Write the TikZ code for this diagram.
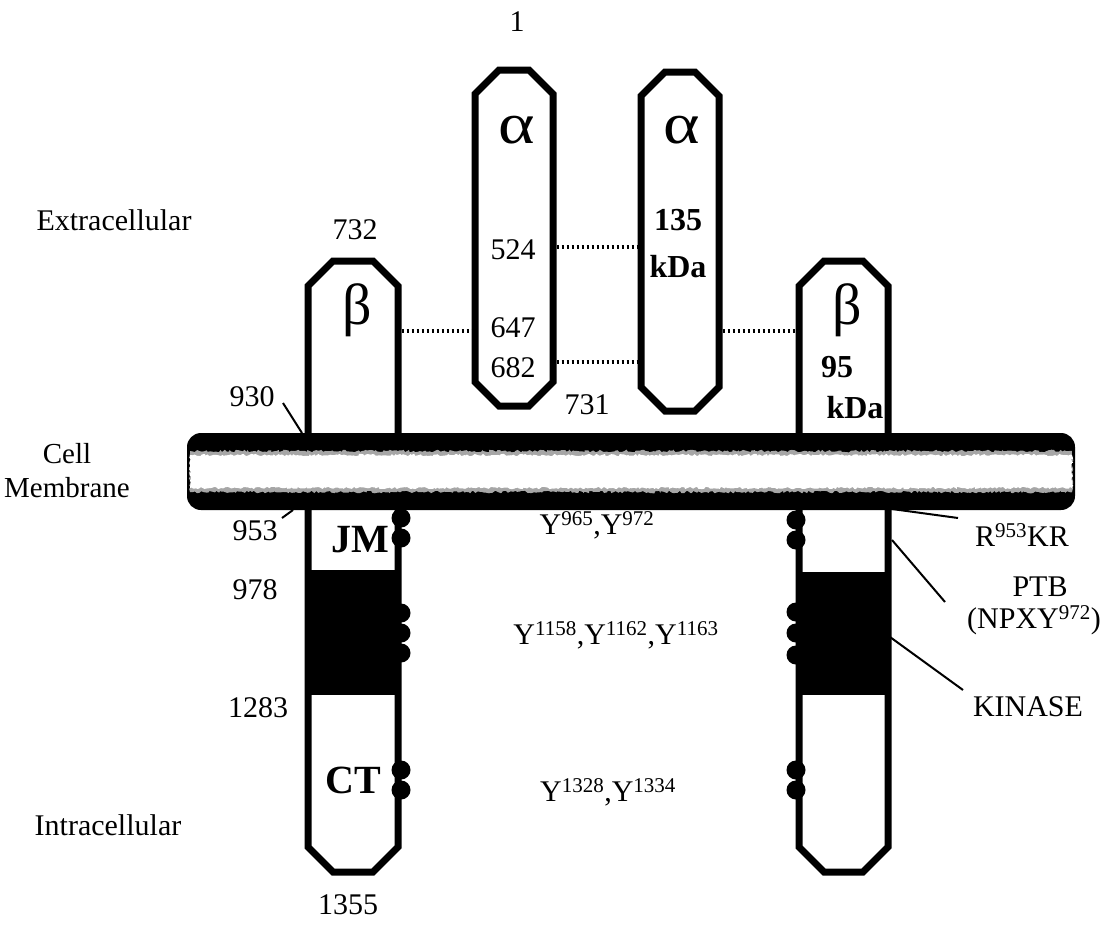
\documentclass[tikz,border=0pt]{standalone}
\usepackage{fontspec}
\setmainfont{Liberation Serif}
\usetikzlibrary{calc,decorations.pathmorphing}
\newcommand\octshape[3]{\draw[#3] ($(#1.north west)+(0,-#2)$) -- ($(#1.north west)+(#2,0)$) -- ($(#1.north east)+(-#2,0)$) -- ($(#1.north east)+(0,-#2)$) -- ($(#1.south east)+(0,#2)$) -- ($(#1.south east)+(-#2,0)$) -- ($(#1.south west)+(#2,0)$) -- ($(#1.south west)+(0,#2)$) -- cycle;}
\begin{document}
\begin{tikzpicture}[x=1pt,y=-1pt,
 lab/.style={font=\fontsize{30}{34}\selectfont, inner sep=0},
 blab/.style={font=\fontsize{32}{34}\selectfont\bfseries, inner sep=0},
 greek/.style={font=\fontsize{58}{60}\selectfont, inner sep=0},
 domlab/.style={font=\fontsize{40}{42}\selectfont\bfseries, inner sep=0},
 box/.style={draw=none, inner sep=0, outer sep=0, rectangle},
 outline/.style={line width=7pt, fill=white, line join=miter},
 dotline/.style={line width=3.5pt, dash pattern=on 2.5pt off 2.5pt, shorten <=3.5pt, shorten >=3.5pt},
 leader/.style={line width=2pt},
 ptyr/.style={circle, fill=black, inner sep=0, minimum size=19pt},
]
\useasboundingbox[fill=white] (0,0) rectangle (1111,924);

% subunit frames
\node[box, minimum width=78pt, minimum height=336pt] (a1) at (514,238) {};
\node[box, minimum width=78pt, minimum height=339pt] (a2) at (680,241.5) {};
\node[box, minimum width=90pt, minimum height=611pt] (b1) at (353,566.5) {};
\node[box, minimum width=89pt, minimum height=611pt] (b2) at (843.5,566.5) {};

\octshape{a1}{24pt}{outline}
\octshape{a2}{24pt}{outline}
\octshape{b1}{25pt}{outline}
\octshape{b2}{25pt}{outline}

% kinase domains
\coordinate (k1t) at (0,570); \coordinate (k1b) at (0,695);
\coordinate (k2t) at (0,572); \coordinate (k2b) at (0,695);
\fill (b1.west |- k1t) rectangle (b1.east |- k1b);
\fill (b2.west |- k2t) rectangle (b2.east |- k2b);

% membrane
\node[box, fill=black, rounded corners=14pt, minimum width=888pt, minimum height=77pt] (mem) at (631,471.5) {};
\fill[black!35, decorate, decoration={random steps, segment length=2pt, amplitude=1.3pt}] (190,451) rectangle (1072,492);
\fill[white, decorate, decoration={random steps, segment length=2pt, amplitude=1.2pt}] (190,455) rectangle (1072,488);

% phosphotyrosines
\foreach \y [count=\i] in {518,538,613,633,653,770,790} {
  \node[ptyr] (pl\i) at (401,\y) {};
}
\foreach \y [count=\i] in {520,540,612,633,655,770,790} {
  \node[ptyr] (pr\i) at (796,\y) {};
}

% disulfide bonds
\coordinate (d1) at (0,247); \coordinate (d2) at (0,331); \coordinate (d3) at (0,362);
\draw[dotline] (a1.east |- d1) -- (a2.west |- d1);
\draw[dotline] (b1.east |- d2) -- (a1.west |- d2);
\draw[dotline] (a2.east |- d2) -- (b2.west |- d2);
\draw[dotline] (a1.east |- d3) -- (a2.west |- d3);

% texts
\node[lab] (n1) at (517,22) {1};
\node[lab] (extra) at (114,220) {Extracellular};
\node[lab] (n732) at (355,230) {732};
\node[greek, xscale=1.2] (al1) at (517,130) {α};
\node[greek, xscale=1.2] (al2) at (682,130) {α};
\node[lab] (n524) at (513,250) {524};
\node[lab] (n647) at (513,328) {647};
\node[lab] (n682) at (513,368) {682};
\node[blab] (k135) at (678,220) {135};
\node[blab] (kda1) at (678,267) {kDa};
\node[greek] (be1) at (357,310) {β};
\node[greek] (be2) at (847,310) {β};
\node[blab] (k95) at (837,367) {95};
\node[blab] (kda2) at (855,408) {kDa};
\node[lab] (n731) at (587,405) {731};
\node[lab] (n930) at (252,397) {930};
\node[lab, align=center, font=\fontsize{29}{34}\selectfont] (cm) at (67,471) {Cell\\Membrane};
\node[lab] (n953) at (255,531) {953};
\node[lab] (n978) at (255,590) {978};
\node[lab] (n1283) at (258,708) {1283};
\node[domlab] (jm) at (360,540) {JM};
\node[domlab] (ct) at (353,780) {CT};
\node[lab] (n1355) at (348,905) {1355};
\node[lab] (intra) at (108,825) {Intracellular};
\node[lab] (y1) at (597,525) {Y\textsuperscript{965},Y\textsuperscript{972}};
\node[lab] (y2) at (616,635) {Y\textsuperscript{1158},Y\textsuperscript{1162},Y\textsuperscript{1163}};
\node[lab] (y3) at (608,792) {Y\textsuperscript{1328},Y\textsuperscript{1334}};
\node[lab] (rkr) at (1022,535) {R\textsuperscript{953}KR};
\node[lab] (ptb) at (1040,587) {PTB};
\node[lab] (npxy) at (1034,620) {(NPXY\textsuperscript{972})};
\node[lab] (kin) at (1028,707) {KINASE};

% leader lines
\coordinate (c930a) at (283,403); \coordinate (c930b) at (302,433);
\coordinate (c953a) at (282,518); \coordinate (c953b) at (293,510);
\coordinate (crkra) at (892,509); \coordinate (crkrb) at (958,518);
\coordinate (cptba) at (892,540); \coordinate (cptbb) at (945,602);
\coordinate (ckina) at (890,637); \coordinate (ckinb) at (963,690);
\draw[leader] (c930a) -- (c930b);
\draw[leader] (c953a) -- (c953b);
\draw[leader] (crkra) -- (crkrb);
\draw[leader] (cptba) -- (cptbb);
\draw[leader] (ckina) -- (ckinb);
\end{tikzpicture}
\end{document}
